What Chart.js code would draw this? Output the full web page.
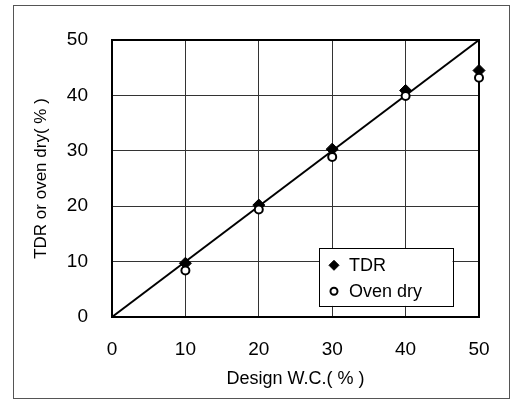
<!DOCTYPE html>
<html>
<head>
<meta charset="utf-8">
<script src="https://cdn.jsdelivr.net/npm/chart.js@4/dist/chart.umd.min.js"></script>
<style>
  html, body { margin: 0; padding: 0; background: #fff; }
  #wrap { width: 514px; height: 405px; }
</style>
</head>
<body>
<div id="wrap"><canvas id="c" width="514" height="405"></canvas></div>
<script>
// Design water content (%) and measured values (%)
const designWC = [10, 20, 30, 40, 50];
const tdr = [9.7, 20.2, 30.3, 40.9, 44.5];
const ovenDry = [8.4, 19.4, 28.9, 39.9, 43.2];
// 1:1 reference line end points
const oneToOne = [0, 50];
const axisTicks = [0, 10, 20, 30, 40, 50];
const legendOrder = ['TDR', 'Oven dry'];

const FONT = '"Liberation Sans", Arial, Helvetica, sans-serif';

const pts = (xs, ys) => xs.map((x, i) => ({ x: x, y: ys[i] }));

// Thin outer frame around the whole figure
const framePlugin = {
  id: 'frame',
  beforeDraw(chart) {
    const ctx = chart.ctx;
    ctx.save();
    ctx.fillStyle = '#fff';
    ctx.fillRect(0, 0, chart.width, chart.height);
    ctx.strokeStyle = '#555';
    ctx.lineWidth = 1;
    ctx.strokeRect(13.5, 5.5, 496, 393);
    ctx.restore();
  }
};

// Heavy border around the plotting area
const plotBoxPlugin = {
  id: 'plotBox',
  beforeDatasetsDraw(chart) {
    const { ctx, chartArea: a } = chart;
    ctx.save();
    ctx.strokeStyle = '#000';
    ctx.lineWidth = 2;
    ctx.strokeRect(a.left, a.top, a.right - a.left, a.bottom - a.top);
    ctx.restore();
  }
};

// Boxed legend inside the plot, lower right
const legendBoxPlugin = {
  id: 'legendBox',
  afterDatasetsDraw(chart) {
    const ctx = chart.ctx;
    const x = chart.scales.x, y = chart.scales.y;
    const left = x.getPixelForValue(28.2), right = x.getPixelForValue(46.4);
    const top = y.getPixelForValue(12.4), bottom = y.getPixelForValue(2.0);
    ctx.save();
    ctx.fillStyle = '#fff';
    ctx.fillRect(left, top, right - left, bottom - top);
    ctx.strokeStyle = '#000';
    ctx.lineWidth = 1;
    ctx.strokeRect(Math.round(left) + 0.5, Math.round(top) + 0.5, Math.round(right - left), Math.round(bottom - top));
    const items = legendOrder.map(name => chart.data.datasets.find(d => d.label === name));
    const rowY = [top + 17, top + 43];
    items.forEach((d, i) => {
      const cx = left + 15, cy = rowY[i], r = d.legendRadius;
      ctx.fillStyle = d.backgroundColor;
      ctx.strokeStyle = d.borderColor;
      ctx.lineWidth = d.borderWidth;
      ctx.beginPath();
      if (d.pointStyle === 'circle') {
        ctx.arc(cx, cy, r, 0, Math.PI * 2);
      } else {
        ctx.moveTo(cx, cy - r);
        ctx.lineTo(cx + r, cy);
        ctx.lineTo(cx, cy + r);
        ctx.lineTo(cx - r, cy);
        ctx.closePath();
      }
      ctx.fill();
      ctx.stroke();
      ctx.fillStyle = '#000';
      ctx.font = '18px ' + FONT;
      ctx.textAlign = 'left';
      ctx.textBaseline = 'middle';
      ctx.fillText(d.label, left + 30, cy + 1);
    });
    ctx.restore();
  }
};

new Chart(document.getElementById('c'), {
  type: 'scatter',
  data: {
    datasets: [
      {
        label: 'Oven dry',
        data: pts(designWC, ovenDry),
        pointStyle: 'circle',
        pointRadius: 4,
        legendRadius: 3.5,
        backgroundColor: '#fff',
        borderColor: '#000',
        borderWidth: 2,
        order: 0,
        clip: false
      },
      {
        label: 'TDR',
        data: pts(designWC, tdr),
        pointStyle: 'rectRot',
        pointRadius: 6,
        legendRadius: 5,
        backgroundColor: '#000',
        borderColor: '#000',
        borderWidth: 1,
        order: 1,
        clip: false
      },
      {
        label: '1:1',
        type: 'line',
        data: pts(oneToOne, oneToOne),
        borderColor: '#000',
        borderWidth: 2,
        pointRadius: 0,
        fill: false,
        order: 2,
        clip: false
      }
    ]
  },
  options: {
    responsive: false,
    animation: false,
    events: [],
    layout: { padding: { top: 40, right: 35, left: 0, bottom: 0 } },
    plugins: {
      legend: { display: false },
      tooltip: { enabled: false }
    },
    scales: {
      x: {
        type: 'linear',
        min: 0, max: 50,
        afterBuildTicks: s => { s.ticks = axisTicks.map(v => ({ value: v })); },
        afterFit: s => { s.height = 88; },
        grid: { color: '#333', lineWidth: 1, drawTicks: false },
        border: { display: false },
        ticks: { padding: 21, color: '#000', font: { family: FONT, size: 19 } },
        title: {
          display: true,
          text: 'Design W.C.( % )',
          color: '#000',
          font: { family: FONT, size: 18 },
          padding: { top: 0, bottom: 15 }
        }
      },
      y: {
        type: 'linear',
        min: 0, max: 50,
        afterBuildTicks: s => { s.ticks = axisTicks.map(v => ({ value: v })); },
        afterFit: s => { s.width = 112; },
        grid: { color: '#333', lineWidth: 1, drawTicks: false },
        border: { display: false },
        ticks: { padding: 24, color: '#000', font: { family: FONT, size: 19 } },
        title: {
          display: true,
          text: 'TDR or oven dry( % )',
          color: '#000',
          font: { family: FONT, size: 17 },
          padding: { top: 31, bottom: 0 }
        }
      }
    }
  },
  plugins: [framePlugin, plotBoxPlugin, legendBoxPlugin]
});
</script>
</body>
</html>
